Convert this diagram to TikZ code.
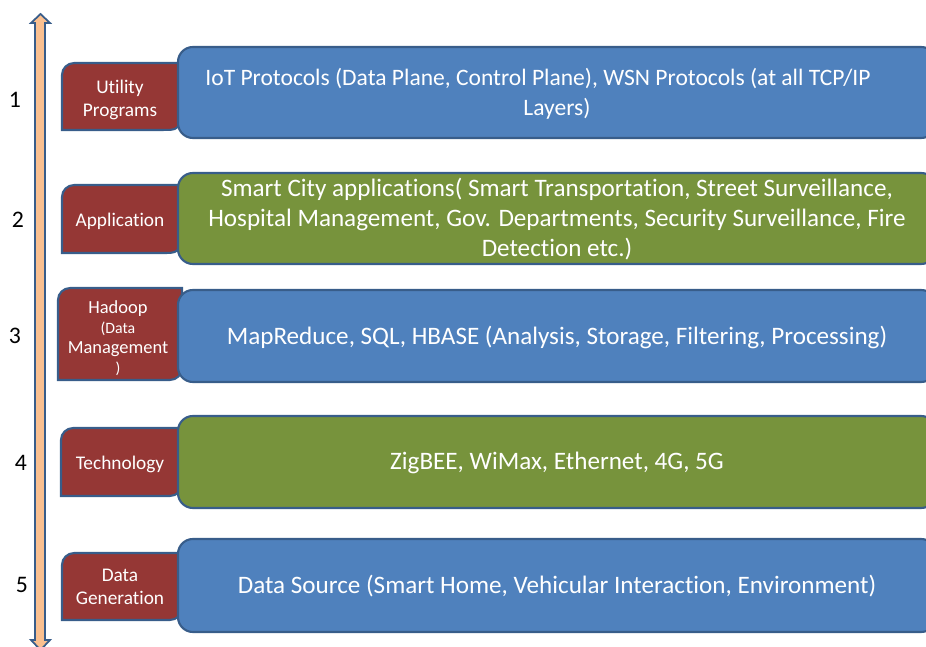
\documentclass[tikz,border=0pt]{standalone}
\usepackage{fontspec}
\setmainfont{Carlito}[Ligatures=CommonOff]
\usepackage{xcolor}
\usepackage{tikz}

\definecolor{boxblue}{HTML}{4F81BD}
\definecolor{boxgreen}{HTML}{77933C}
\definecolor{boxred}{HTML}{953735}
\definecolor{edgeblue}{HTML}{385D8A}
\definecolor{arrowfill}{HTML}{FAC090}

\begin{document}
\begin{tikzpicture}[x=0.02cm, y=0.02cm,
        bigbox/.style={draw=edgeblue, line width=1.2pt, rounded corners=8.5pt},
        redbox/.style={draw=edgeblue, line width=1.2pt, fill=boxred},
        bigtext/.style={text=white, font=\fontsize{14.3}{17}\selectfont, align=center},
        redtext/.style={text=white, font=\fontsize{11}{13}\selectfont, align=center},
        numtext/.style={font=\fontsize{13.5}{16}\selectfont}]
        \useasboundingbox (0,0) rectangle (926,646);
        \clip (0,0) rectangle (926,646);

        % double arrow on the left
        \draw[draw=edgeblue, fill=arrowfill, line width=1pt] (35,623) -- (31,623) -- (40.5,632) -- (50,623) -- (45,623)
            -- (45,6) -- (50,6) -- (40.5,-4) -- (31,6) -- (35,6) -- cycle;

        % layer tabs
        \draw[redbox] (62,516) -- (62,571) arc[start angle=180, end angle=90, radius=6.8pt] -- (182,583) -- (182,528) arc[start angle=0, end angle=-90, radius=6.8pt] -- cycle;
        \draw[redbox] (62,393) -- (62,449) arc[start angle=180, end angle=90, radius=6.8pt] -- (182,461) -- (182,405) arc[start angle=0, end angle=-90, radius=6.8pt] -- cycle;
        \draw[redbox] (58,266) -- (58,346) arc[start angle=180, end angle=90, radius=6.8pt] -- (182,358) -- (182,278) arc[start angle=0, end angle=-90, radius=6.8pt] -- cycle;
        \draw[redbox] (61,150) -- (61,206) arc[start angle=180, end angle=90, radius=6.8pt] -- (182,218) -- (182,162) arc[start angle=0, end angle=-90, radius=6.8pt] -- cycle;
        \draw[redbox] (62,26) -- (62,81) arc[start angle=180, end angle=90, radius=6.8pt] -- (182,93) -- (182,38) arc[start angle=0, end angle=-90, radius=6.8pt] -- cycle;

        % layer boxes
        \draw[bigbox, fill=boxblue] (178,508) rectangle (936,599);
        \draw[bigbox, fill=boxgreen] (178,382) rectangle (936,473);
        \draw[bigbox, fill=boxblue] (178,264) rectangle (936,356);
        \draw[bigbox, fill=boxgreen] (178,138) rectangle (936,230);
        \draw[bigbox, fill=boxblue] (178,14) rectangle (936,107);

        \node[numtext] (n1) at (15,546) {1};
        \node[numtext] (n2) at (18,426) {2};
        \node[numtext] (n3) at (15,310) {3};
        \node[numtext] (n4) at (21,183) {4};
        \node[numtext] (n5) at (22,61) {5};

        \node[redtext] (util) at (120,546) {Utility\\Programs};
        \node[redtext] (app) at (120,425) {Application};
        \node[redtext, font=\fontsize{10.5}{11.3}\selectfont] (hadoop) at (118,308)
            {Hadoop\\\fontsize{9}{11.3}\selectfont(Data\\Management\\\fontsize{9}{11.3}\selectfont)};
        \node[redtext] (tech) at (120,182) {Technology};
        \node[redtext] (gen) at (120,59) {Data\\Generation};

        \node[bigtext, font=\fontsize{13.4}{17}\selectfont] (iot) at (538,552)
            {IoT Protocols (Data Plane, Control Plane), WSN Protocols (at all TCP/IP\\\hspace*{21.5pt}Layers)};
        \node[bigtext] (city) at (557,427) {Smart City applications( Smart Transportation, Street Surveillance,\\Hospital Management, Gov. Departments, Security Surveillance, Fire\\Detection etc.)};
        \node[bigtext] (hdp) at (557,309) {MapReduce, SQL, HBASE (Analysis, Storage, Filtering, Processing)};
        \node[bigtext] (zig) at (557,183) {ZigBEE, WiMax, Ethernet, 4G, 5G};
        \node[bigtext] (src) at (557,60) {Data Source (Smart Home, Vehicular Interaction, Environment)};
    \end{tikzpicture}
\end{document}
